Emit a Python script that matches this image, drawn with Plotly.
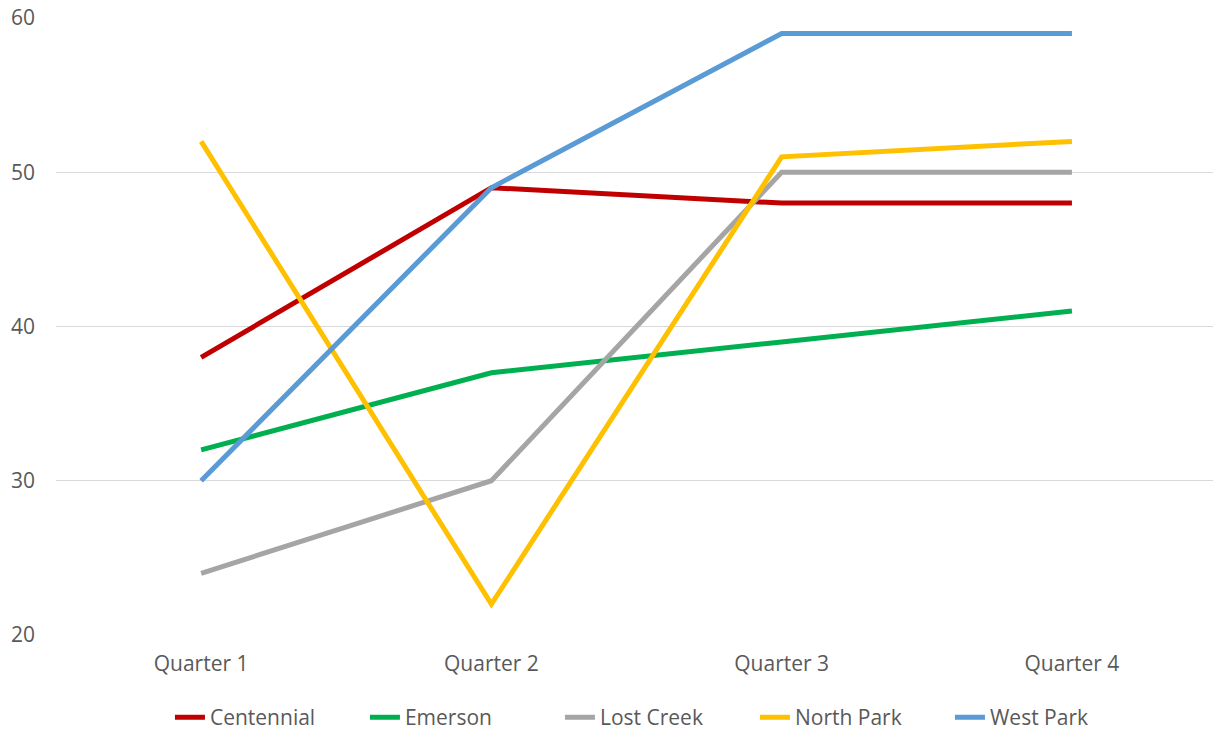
import plotly.graph_objects as go

quarters = ["Quarter 1", "Quarter 2", "Quarter 3", "Quarter 4"]
centennial = [38, 49, 48, 48]
emerson = [32, 37, 39, 41]
lost_creek = [24, 30, 50, 50]
north_park = [52, 22, 51, 52]
west_park = [30, 49, 59, 59]

series = [
    ("Centennial", centennial, "#C00000"),
    ("Emerson", emerson, "#00B050"),
    ("Lost Creek", lost_creek, "#A5A5A5"),
    ("North Park", north_park, "#FFC000"),
    ("West Park", west_park, "#5B9BD5"),
]

font_family = "'Open Sans', Lato, sans-serif"
text_color = "#595959"

fig = go.Figure()
for name, values, color in series:
    fig.add_trace(go.Scatter(
        x=quarters, y=values, name=name, mode="lines",
        line=dict(color=color, width=5),
    ))

fig.update_layout(
    width=1213, height=733,
    margin=dict(l=56, r=0, t=18, b=98),
    plot_bgcolor="white", paper_bgcolor="white",
    font=dict(family=font_family, size=21, color=text_color),
    showlegend=True,
    legend=dict(
        orientation="h", xref="container", yref="container",
        x=0.542, xanchor="center", y=0.021, yanchor="middle",
        font=dict(size=21, color=text_color),
        entrywidth=150,
    ),
    xaxis=dict(
        type="category", range=[-0.5, 3.486],
        showgrid=False, zeroline=False, showline=False,
        ticks="", ticklabelstandoff=14,
    ),
    yaxis=dict(
        range=[20, 60], dtick=10, tick0=20,
        showgrid=True, gridcolor="#D9D9D9", gridwidth=1.3,
        zeroline=False, showline=False, ticks="",
        ticklabelstandoff=20,
    ),
)

fig.write_html("out.html")
